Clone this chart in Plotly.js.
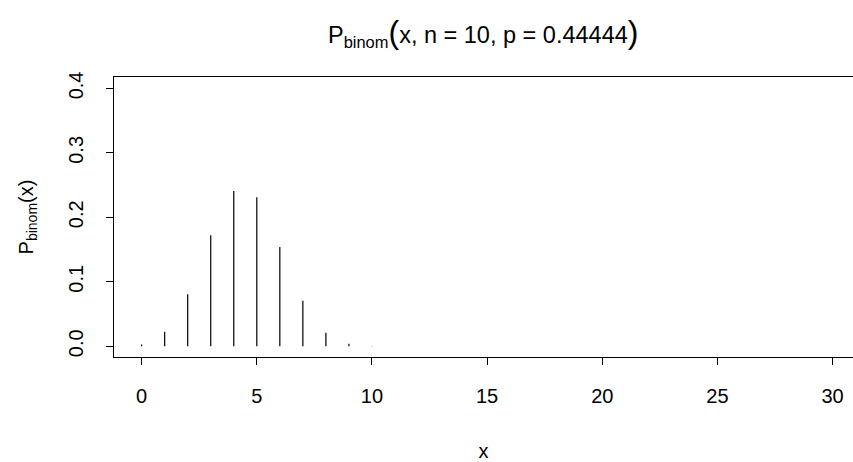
<!DOCTYPE html>
<html>
<head>
<meta charset="utf-8">
<script src="https://cdn.plot.ly/plotly-3.0.1.min.js"></script>
<style>
html,body{margin:0;padding:0;background:#fff;overflow:hidden;}
#chart{width:853px;height:462px;}
</style>
</head>
<body>
<div id="chart"></div>
<script>
// Data (binomial probabilities, n = 10, p = 0.44444)
const xValues = [0, 1, 2, 3, 4, 5, 6, 7, 8, 9, 10];
const probValues = [0.0028, 0.0224, 0.0806, 0.1720, 0.2409, 0.2312, 0.1541, 0.0705, 0.0211, 0.0038, 0.0003];
const xTicks = [0, 5, 10, 15, 20, 25, 30];
const yTicks = [0.0, 0.1, 0.2, 0.3, 0.4];
const yTickLabels = ["0.0", "0.1", "0.2", "0.3", "0.4"];

const lx = [], ly = [];
xValues.forEach((x, i) => {
  lx.push(x, x, null);
  ly.push(0, probValues[i], null);
});

const font = "Liberation Sans, Arial, Helvetica, sans-serif";

const trace = {
  type: "scatter",
  mode: "lines",
  x: lx,
  y: ly,
  line: {color: "#000", width: 1.2},
  hoverinfo: "skip",
  showlegend: false
};

const layout = {
  width: 853,
  height: 462,
  margin: {l: 114, r: 0, t: 77, b: 105, pad: 0},
  paper_bgcolor: "#fff",
  plot_bgcolor: "#fff",
  font: {family: font, size: 20, color: "#000"},
  title: {
    text: 'P<sub>binom</sub><span style="font-size:32px">(</span>x, n = 10, p = 0.44444<span style="font-size:32px">)</span>',
    font: {family: font, size: 23.5, color: "#000"},
    x: 0.5665, xanchor: "center",
    y: 0.925, yanchor: "middle"
  },
  xaxis: {
    range: [-1.2, 30.886],
    tickmode: "array",
    tickvals: xTicks,
    ticktext: xTicks.map(String),
    ticks: "outside",
    ticklen: 7,
    tickwidth: 1,
    tickcolor: "#000",
    showline: true,
    mirror: true,
    linecolor: "#000",
    linewidth: 1,
    showgrid: false,
    zeroline: false,
    ticklabelstandoff: 14,
    tickfont: {family: font, size: 20},
    title: {text: "x", font: {family: font, size: 20}, standoff: 38}
  },
  yaxis: {
    range: [-0.0167, 0.4177],
    tickmode: "array",
    tickvals: yTicks,
    ticktext: yTickLabels,
    ticks: "outside",
    ticklen: 7,
    tickwidth: 1,
    tickcolor: "#000",
    tickangle: -90,
    showline: true,
    mirror: false,
    linecolor: "#000",
    linewidth: 1,
    showgrid: false,
    zeroline: false,
    ticklabelstandoff: 15,
    tickfont: {family: font, size: 20},
    title: {text: "P<sub>binom</sub>(x)", font: {family: font, size: 20}, standoff: 26}
  }
};

Plotly.newPlot("chart", [trace], layout, {displayModeBar: false, staticPlot: true});
</script>
</body>
</html>
